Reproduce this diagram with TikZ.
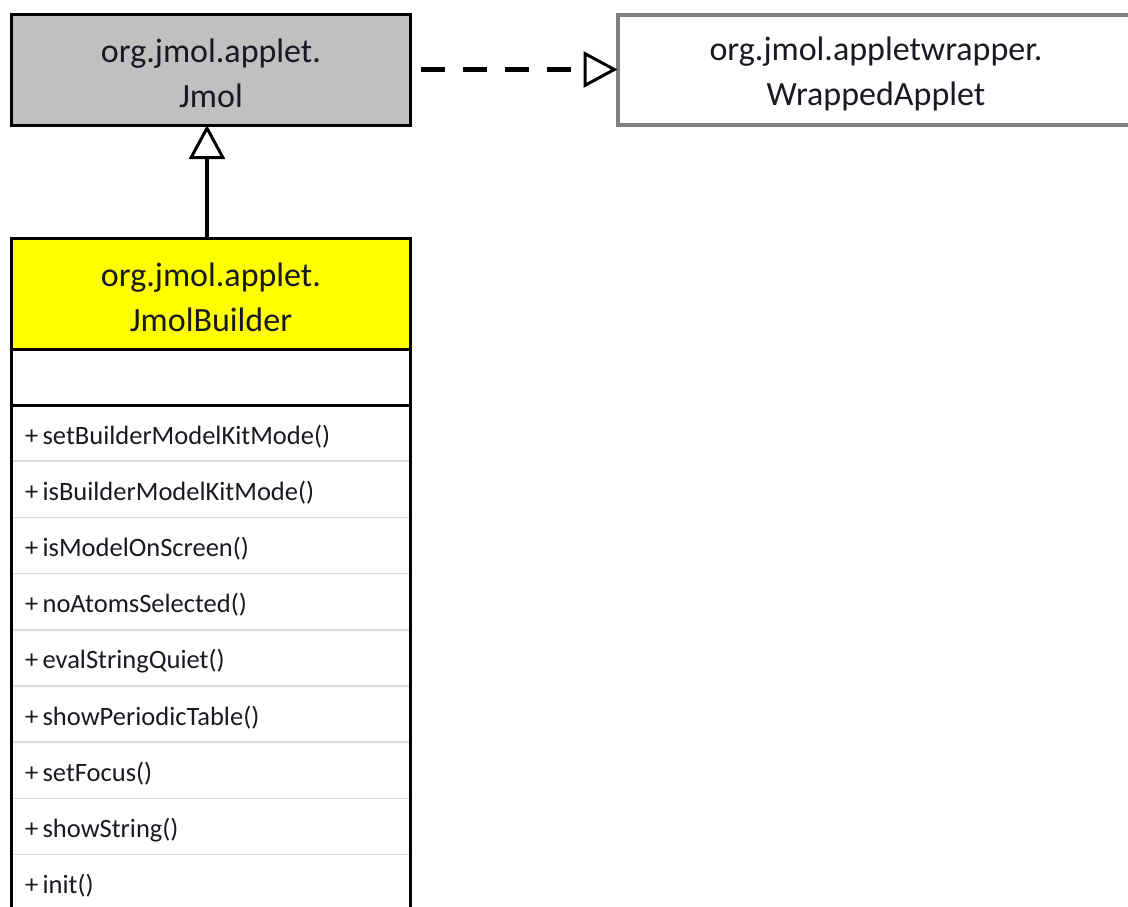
\documentclass[tikz,border=0pt]{standalone}
\usepackage{fontspec}
\setmainfont{Carlito}
\usetikzlibrary{positioning,arrows.meta}
\definecolor{jmolgray}{RGB}{192,192,192}
\definecolor{wrapgray}{RGB}{128,128,128}
\definecolor{rowgray}{RGB}{220,220,220}
\definecolor{builderyellow}{RGB}{255,255,0}
\definecolor{textdark}{RGB}{25,25,35}

\begin{document}
\begin{tikzpicture}[x=1pt,y=-1pt,
	classbox/.style={draw=black,line width=3pt,minimum width=399pt,align=center,inner sep=0pt,outer sep=0pt,text=textdark,
		font=\fontsize{34}{45}\selectfont,text height=77pt},
	methodrow/.style={minimum width=399pt,minimum height=56.2pt,text width=372pt,align=left,inner sep=0pt,outer sep=0pt,text=textdark,
		text height=26pt,text depth=4pt,font=\fontsize{26.5}{30}\selectfont},
	separator/.style={draw=rowgray,line width=1.5pt},
	inherit/.style={-{Triangle[open,length=34pt,width=36pt,line width=3pt]},line width=4.5pt},
	realize/.style={inherit,dash pattern=on 24pt off 18pt}]
	
	\clip (0,0) rectangle (1128,906);
	
	\node[classbox,fill=jmolgray,minimum height=111pt] (jmol)    at (211,69.5) {org.jmol.applet.\\Jmol};
	\node[classbox,draw=wrapgray,line width=4pt,minimum width=517pt,minimum height=110pt] (wrapped) at (876,69.5) {org.jmol.appletwrapper.\\WrappedApplet};
	\node[classbox,fill=builderyellow,minimum height=111pt] (builder) at (211,293.5) {org.jmol.applet.\\JmolBuilder};
	\node[classbox,text height=0pt,minimum height=56pt,below=0pt of builder] (attrs) {};
	
	\node[methodrow,below=0pt of attrs] (m1) {+\,setBuilderModelKitMode()};
	\node[methodrow,below=0pt of m1]    (m2) {+\,isBuilderModelKitMode()};
	\node[methodrow,below=0pt of m2]    (m3) {+\,isModelOnScreen()};
	\node[methodrow,below=0pt of m3]    (m4) {+\,noAtomsSelected()};
	\node[methodrow,below=0pt of m4]    (m5) {+\,evalStringQuiet()};
	\node[methodrow,below=0pt of m5]    (m6) {+\,showPeriodicTable()};
	\node[methodrow,below=0pt of m6]    (m7) {+\,setFocus()};
	\node[methodrow,below=0pt of m7]    (m8) {+\,showString()};
	\node[methodrow,below=0pt of m8]    (m9) {+\,init()};
	
	\foreach \r in {m1,m2,m3,m4,m5,m6,m7,m8}
		\draw[separator] (\r.south west) -- (\r.south east);
	
	% methods compartment
	\coordinate (bottom) at (0,930);
	\draw[line width=3pt] (attrs.south west) -- (attrs.south west |- bottom);
	\draw[line width=3pt] (attrs.south east) -- (attrs.south east |- bottom);
	
	\draw[realize,shorten <=10pt] (jmol.east) -- (wrapped.west);
	\draw[inherit] ([xshift=-4pt]builder.north) -- ([xshift=-4pt]jmol.south);
	
\end{tikzpicture}
\end{document}
